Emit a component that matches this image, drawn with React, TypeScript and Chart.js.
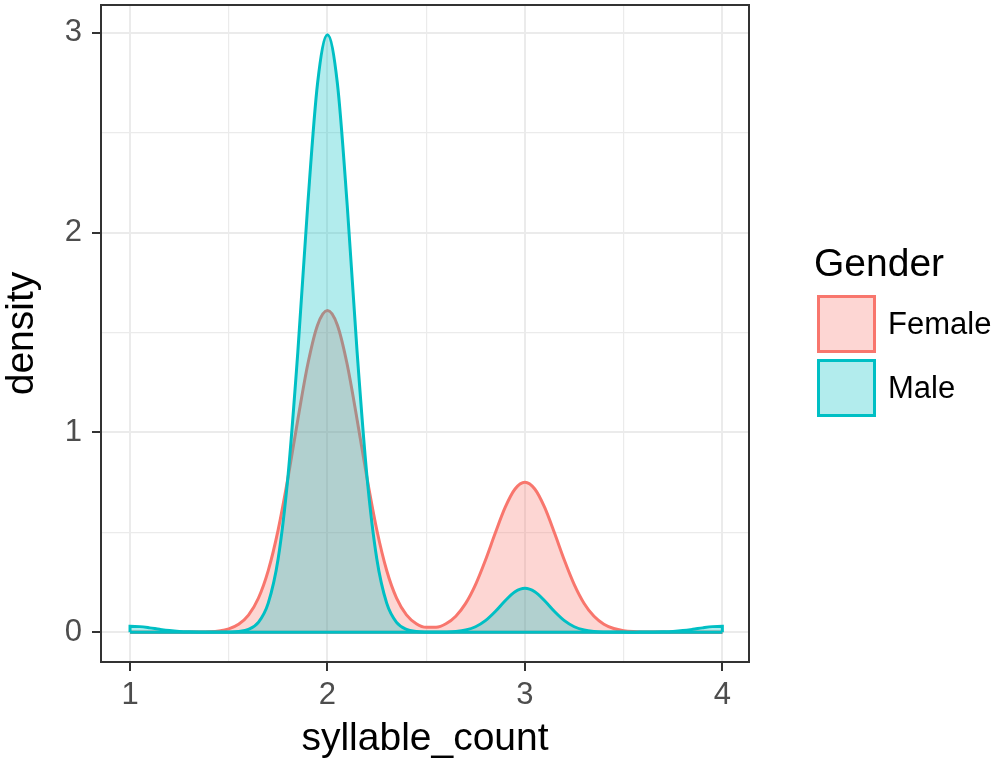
import React, { useEffect, useRef } from "react";
import { Chart, registerables } from "chart.js";

Chart.register(...registerables);

// x positions where the density curves were read (syllable_count)
const xs = [
  1.0, 1.05, 1.1, 1.15, 1.2, 1.25, 1.3, 1.35, 1.4, 1.45,
  1.5, 1.55, 1.6, 1.65, 1.7, 1.75, 1.8, 1.85, 1.9, 1.95,
  2.0, 2.05, 2.1, 2.15, 2.2, 2.25, 2.3, 2.35, 2.4, 2.45,
  2.5, 2.55, 2.6, 2.65, 2.7, 2.75, 2.8, 2.85, 2.9, 2.95,
  3.0, 3.05, 3.1, 3.15, 3.2, 3.25, 3.3, 3.35, 3.4, 3.45,
  3.5, 3.55, 3.6, 3.65, 3.7, 3.75, 3.8, 3.85, 3.9, 3.95,
  4.0,
];

const femaleDensity = [
  0, 0, 0, 0, 0, 0, 0.0002, 0.0007, 0.0022, 0.0062,
  0.0163, 0.0391, 0.0853, 0.1697, 0.3083, 0.5109, 0.7723, 1.065, 1.34, 1.538,
  1.61, 1.538, 1.34, 1.065, 0.7723, 0.511, 0.3084, 0.17, 0.0863, 0.042,
  0.0239, 0.0244, 0.0419, 0.0798, 0.1438, 0.238, 0.3598, 0.4961, 0.6242, 0.7163,
  0.75, 0.7163, 0.6242, 0.4961, 0.3598, 0.238, 0.1436, 0.0791, 0.0397, 0.0182,
  0.0076, 0.0029, 0.001, 0.0003, 0.0001, 0, 0, 0, 0, 0,
  0,
];

const maleDensity = [
  0.03, 0.0276, 0.0214, 0.0141, 0.0078, 0.0037, 0.0015, 0.0005, 0.0002, 0.0001,
  0.0007, 0.0033, 0.0138, 0.0488, 0.1454, 0.3663, 0.7801, 1.404, 2.137, 2.749,
  2.99, 2.749, 2.137, 1.404, 0.7801, 0.3663, 0.1454, 0.0488, 0.0138, 0.0033,
  0.0007, 0.0003, 0.001, 0.0036, 0.0107, 0.027, 0.0574, 0.1033, 0.1572, 0.2023,
  0.22, 0.2023, 0.1572, 0.1033, 0.0574, 0.027, 0.0107, 0.0036, 0.001, 0.0003,
  0.0001, 0, 0.0002, 0.0005, 0.0015, 0.0037, 0.0078, 0.0141, 0.0214, 0.0276,
  0.03,
];

const xTickValues = [1, 1.5, 2, 2.5, 3, 3.5, 4];
const yTickValues = [0, 0.5, 1, 1.5, 2, 2.5, 3];
const xRange = [0.853, 4.135];
const yRange = [-0.1495, 3.1395];

const seriesNames = ["Female", "Male"];
const seriesColors = ["#F8766D", "#00BFC4"];
const seriesFills = ["rgba(248,118,109,0.3)", "rgba(0,191,196,0.3)"];

const xTitle = "syllable_count";
const yTitle = "density";
const legendTitle = "Gender";

const FONT = '"Liberation Sans", Arial, Helvetica, sans-serif';

const isMajor = (v: number) => Math.abs(v - Math.round(v)) < 1e-9;

function curve(ys: number[]) {
  return [
    { x: xs[0], y: 0 },
    ...xs.map((x, i) => ({ x, y: ys[i] })),
    { x: xs[xs.length - 1], y: 0 },
  ];
}

const decorPlugin = {
  id: "decor",
  afterDatasetsDraw(chart: any) {
    const { ctx, chartArea } = chart;
    ctx.save();
    ctx.strokeStyle = "#333333";
    ctx.lineWidth = 2;
    ctx.strokeRect(chartArea.left, chartArea.top, chartArea.right - chartArea.left, chartArea.bottom - chartArea.top);
    ctx.restore();
  },
  afterDraw(chart: any) {
    const { ctx, chartArea } = chart;
    ctx.save();
    // axis titles
    ctx.fillStyle = "#000000";
    ctx.font = `39px ${FONT}`;
    ctx.textAlign = "center";
    ctx.textBaseline = "alphabetic";
    ctx.fillText(xTitle, (chartArea.left + chartArea.right) / 2, 750);
    ctx.save();
    ctx.translate(33, (chartArea.top + chartArea.bottom) / 2);
    ctx.rotate(-Math.PI / 2);
    ctx.fillText(yTitle, 0, 0);
    ctx.restore();

    // legend
    ctx.textAlign = "left";
    ctx.font = `39px ${FONT}`;
    ctx.fillText(legendTitle, 814, 276);
    const keyX = 817;
    const keyW = 59;
    const keyH = 58;
    const keyTops = [295, 359];
    ctx.font = `31px ${FONT}`;
    seriesNames.forEach((name, i) => {
      const top = keyTops[i];
      ctx.fillStyle = "#ffffff";
      ctx.fillRect(keyX, top, keyW, keyH);
      ctx.fillStyle = seriesFills[i];
      ctx.fillRect(keyX, top, keyW, keyH);
      ctx.strokeStyle = seriesColors[i];
      ctx.lineWidth = 3;
      ctx.strokeRect(keyX + 1.5, top + 1.5, keyW - 3, keyH - 3);
      ctx.fillStyle = "#000000";
      ctx.fillText(name, 888, top + 39);
    });
    ctx.restore();
  },
};

export default function App() {
  const ref = useRef<HTMLCanvasElement>(null);

  useEffect(() => {
    const canvas = ref.current;
    if (!canvas) return;
    const lineBase = {
      pointRadius: 0,
      pointHoverRadius: 0,
      borderWidth: 3,
      cubicInterpolationMode: "monotone" as const,
    };
    const chart = new Chart(canvas, {
      type: "line",
      data: {
        datasets: [
          {
            ...lineBase,
            label: seriesNames[0],
            data: curve(femaleDensity),
            borderColor: seriesColors[0],
            backgroundColor: seriesFills[0],
            fill: "origin",
            order: 4,
          },
          {
            ...lineBase,
            label: seriesNames[0] + " base",
            data: [
              { x: xs[0], y: 0 },
              { x: xs[xs.length - 1], y: 0 },
            ],
            borderColor: seriesColors[0],
            fill: false,
            order: 3,
          },
          {
            ...lineBase,
            label: seriesNames[1],
            data: curve(maleDensity),
            borderColor: seriesColors[1],
            backgroundColor: seriesFills[1],
            fill: "origin",
            order: 2,
          },
          {
            ...lineBase,
            label: seriesNames[1] + " base",
            data: [
              { x: xs[0], y: 0 },
              { x: xs[xs.length - 1], y: 0 },
            ],
            borderColor: seriesColors[1],
            fill: false,
            order: 1,
          },
        ],
      },
      options: {
        animation: false,
        responsive: false,
        devicePixelRatio: 1,
        parsing: false as any,
        layout: { padding: { left: 0, right: 250, top: 5, bottom: 0 } },
        plugins: {
          legend: { display: false },
          tooltip: { enabled: false },
          title: { display: false },
        },
        events: [],
        scales: {
          x: {
            type: "linear",
            position: "bottom",
            min: xRange[0],
            max: xRange[1],
            afterBuildTicks: (s: any) => {
              s.ticks = xTickValues.map((v) => ({ value: v }));
            },
            afterFit: (s: any) => {
              s.height = 101;
              s.paddingLeft = 0;
              s.paddingRight = 0;
            },
            ticks: {
              autoSkip: false,
              maxRotation: 0,
              padding: 6,
              color: "#4D4D4D",
              font: { family: FONT, size: 31 },
              callback: (v: any) => (isMajor(Number(v)) ? String(v) : ""),
            },
            grid: {
              color: "#EBEBEB",
              lineWidth: (c: any) => (isMajor(c.tick?.value ?? 0) ? 2 : 1.2),
              drawTicks: true,
              tickLength: 9,
              tickWidth: 2,
              tickColor: (c: any) => (isMajor(c.tick?.value ?? 0) ? "#333333" : "rgba(0,0,0,0)"),
            },
            border: { display: false },
          },
          y: {
            type: "linear",
            position: "left",
            min: yRange[0],
            max: yRange[1],
            afterBuildTicks: (s: any) => {
              s.ticks = yTickValues.map((v) => ({ value: v }));
            },
            afterFit: (s: any) => {
              s.width = 101;
              s.paddingTop = 0;
              s.paddingBottom = 0;
            },
            ticks: {
              autoSkip: false,
              padding: 10,
              color: "#4D4D4D",
              font: { family: FONT, size: 31 },
              callback: (v: any) => (isMajor(Number(v)) ? String(v) : ""),
            },
            grid: {
              color: "#EBEBEB",
              lineWidth: (c: any) => (isMajor(c.tick?.value ?? 0) ? 2 : 1.2),
              drawTicks: true,
              tickLength: 9,
              tickWidth: 2,
              tickColor: (c: any) => (isMajor(c.tick?.value ?? 0) ? "#333333" : "rgba(0,0,0,0)"),
            },
            border: { display: false },
          },
        },
      },
      plugins: [decorPlugin],
    });
    return () => chart.destroy();
  }, []);

  return (
    <div style={{ position: "absolute", left: 0, top: 0, width: 999, height: 763, background: "#ffffff" }}>
      <canvas ref={ref} width={999} height={763} style={{ display: "block", width: 999, height: 763 }} />
    </div>
  );
}
